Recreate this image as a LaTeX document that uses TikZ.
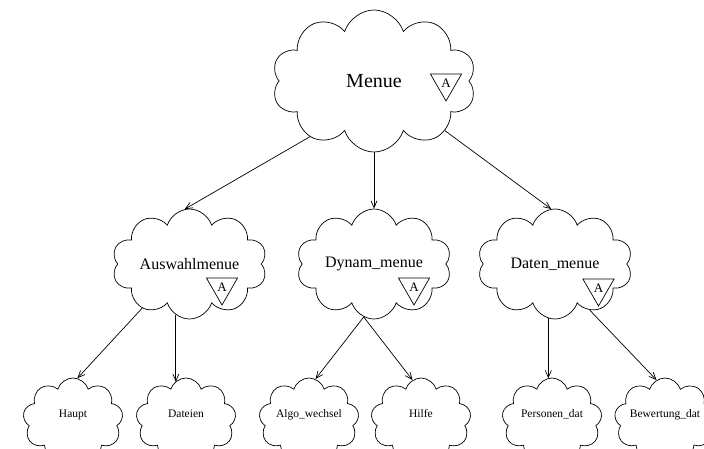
\documentclass[tikz,border=0pt]{standalone}
\usepackage{fontspec}
\setmainfont{Liberation Serif}
\usetikzlibrary{shapes.symbols,shapes.geometric,arrows.meta}
\begin{document}
\begin{tikzpicture}[x=1pt,y=-1pt,
  puff/.style={cloud, draw, cloud puffs=#1, cloud puff arc=145, cloud ignores aspect,
    inner sep=0pt, line width=0.7pt},
  bigcloud/.style={puff=10, minimum width=204pt, minimum height=142pt,
    font=\fontsize{20}{24}\selectfont},
  midcloud/.style={puff=10, minimum width=155pt, minimum height=110pt,
    font=\fontsize{16}{19}\selectfont},
  leafcloud/.style={puff=9, minimum width=100pt, minimum height=84pt,
    text height=8pt, text depth=14pt,
    font=\fontsize{11.5}{14}\selectfont},
  abstract/.style={regular polygon, regular polygon sides=3, shape border rotate=180,
    draw, line width=0.7pt, minimum size=36pt, inner sep=0pt,
    font=\fontsize{13}{15}\selectfont},
  link/.style={line width=0.7pt, -{Straight Barb[length=7pt,width=6pt]}}
]
\useasboundingbox (0,0) rectangle (704,448);

% top-level category
\node[bigcloud] (menue) at (374,81) {Menue};
\node[abstract] (menueA) at (446,83) {A};

% second level
\node[midcloud] (ausw)  at (189.5,264) {Auswahlmenue};
\node[abstract] (auswA) at (222,287) {A};
\node[midcloud] (dynam) at (374,264) {Dynam\_menue};
\node[abstract] (dynamA) at (414,287) {A};
\node[midcloud] (daten) at (555,264) {Daten\_menue};
\node[abstract] (datenA) at (598.5,288) {A};

% leaves
\node[leafcloud] (haupt)     at (73,420) {Haupt};
\node[leafcloud] (dateien)   at (186,420) {Dateien};
\node[leafcloud] (algo)      at (309,420) {Algo\_wechsel};
\node[leafcloud] (hilfe)     at (421,420) {Hilfe};
\node[leafcloud] (personen)  at (552,420) {Personen\_dat};
\node[leafcloud] (bewertung) at (665,420) {Bewertung\_dat};

% dependencies
\draw[link] (menue.221) -- (ausw.95);
\draw[link] (menue.south) -- (dynam.north);
\draw[link] (menue.325) -- (daten.94);
\draw[link] (ausw.223) -- (haupt.84);
\draw[link] (ausw.255) -- (ausw.255 |- dateien.106);
\draw[link] (dynam.259) -- (algo.81);
\draw[link] (dynam.259) -- (hilfe.102);
\draw[link] (daten.263) -- (daten.263 |- personen.96);
\draw[link] (daten.307) -- (bewertung.102);
\end{tikzpicture}
\end{document}
